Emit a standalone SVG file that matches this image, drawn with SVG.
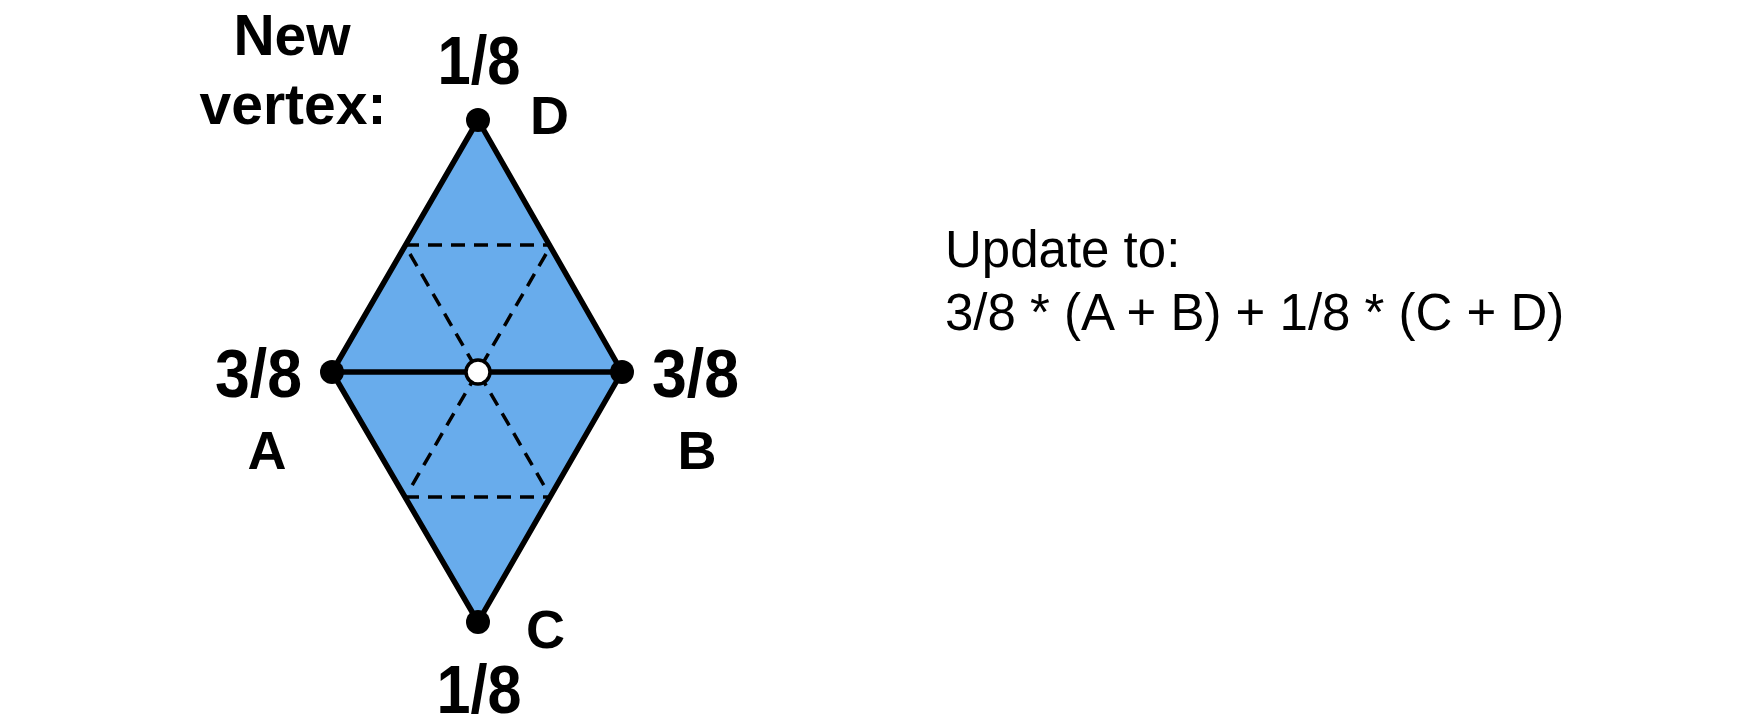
<svg xmlns="http://www.w3.org/2000/svg" width="1755" height="725" viewBox="0 0 1755 725">
<style>
.bold{font-family:"Liberation Sans",Arial,sans-serif;font-weight:bold;fill:#000}
.frac{font-size:68px}
.lbl{font-size:54px}
.title{font-size:57px;text-anchor:middle}
.formula{font-family:"Liberation Sans",Arial,sans-serif;font-size:51px;fill:#000}
.edge{stroke:#000;stroke-width:5.5;fill:none;stroke-linecap:round;stroke-linejoin:round}
.dash{stroke:#000;stroke-width:3.5;fill:none;stroke-dasharray:14 9}
.dot{fill:#000}
</style>
<rect width="1755" height="725" fill="#fff"/>
<g id="faces">
<polygon points="478,120 332,372 478,622 622,372" fill="#68acec"/>
</g>
<g id="connectors">
<line class="dash" x1="405" y1="245" x2="550" y2="245"/>
<line class="dash" x1="405" y1="497" x2="550" y2="497"/>
<line class="dash" x1="410" y1="254" x2="546" y2="489"/>
<line class="dash" x1="546" y1="254" x2="410" y2="489"/>
<path class="edge" d="M478,120 L332,372 L478,622 L622,372 Z"/>
<line class="edge" x1="332" y1="372" x2="622" y2="372"/>
</g>
<g id="title">
<text class="bold title" x="292" y="55">New</text>
<text class="bold title" x="293" y="124">vertex:</text>
</g>
<g id="vertexD">
<circle class="dot" cx="478" cy="120" r="12"/>
<text class="bold frac" x="479" y="84" text-anchor="middle" textLength="83" lengthAdjust="spacingAndGlyphs">1/8</text>
<text class="bold lbl" x="530" y="134">D</text>
</g>
<g id="vertexA">
<circle class="dot" cx="332" cy="372" r="12"/>
<text class="bold frac" x="215" y="397" textLength="87" lengthAdjust="spacingAndGlyphs">3/8</text>
<text class="bold lbl" x="267" y="469" text-anchor="middle">A</text>
</g>
<g id="vertexB">
<circle class="dot" cx="622" cy="372" r="12"/>
<text class="bold frac" x="652" y="397" textLength="87" lengthAdjust="spacingAndGlyphs">3/8</text>
<text class="bold lbl" x="697" y="469" text-anchor="middle">B</text>
</g>
<g id="vertexC">
<circle class="dot" cx="478" cy="622" r="12"/>
<text class="bold lbl" x="526" y="648">C</text>
<text class="bold frac" x="479" y="713" text-anchor="middle" textLength="85" lengthAdjust="spacingAndGlyphs">1/8</text>
</g>
<g id="newVertex">
<circle cx="478" cy="372" r="12" fill="#fff" stroke="#000" stroke-width="3.5"/>
</g>
<g id="formula">
<text class="formula" x="945" y="267">Update to:</text>
<text class="formula" x="945" y="330">3/8 * (A + B) + 1/8 * (C + D)</text>
</g>
</svg>
